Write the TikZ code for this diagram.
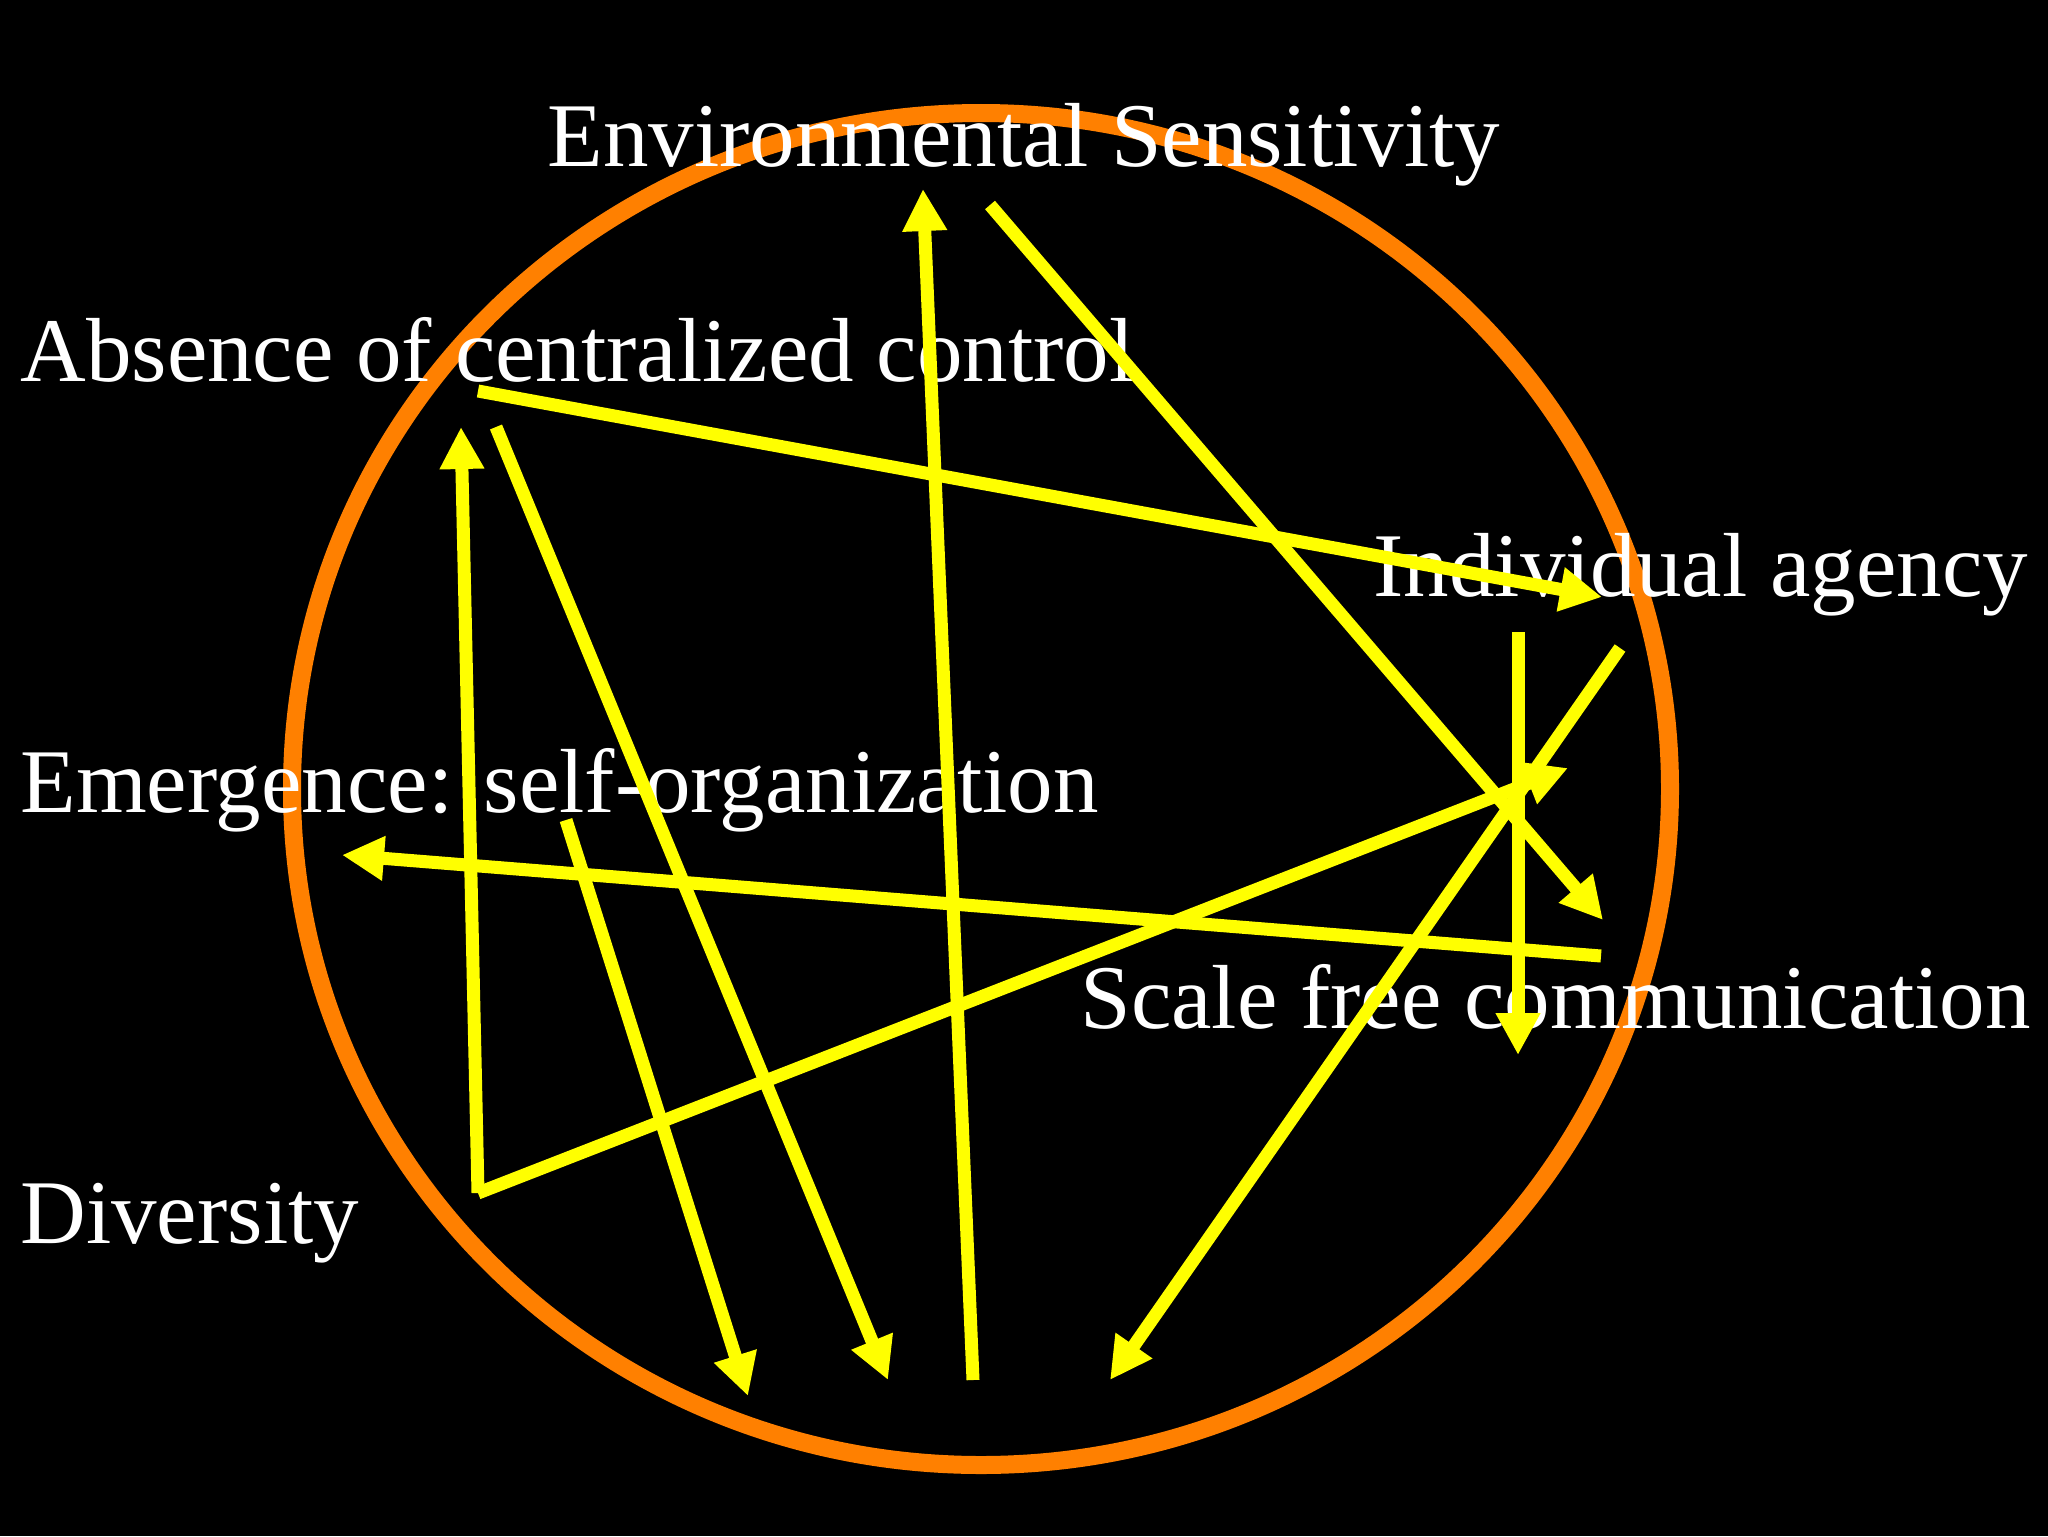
\documentclass[tikz,border=0pt]{standalone}
\usepackage{fontspec}
\setmainfont{Liberation Serif}
\usetikzlibrary{arrows.meta}

\definecolor{ringorange}{RGB}{255,128,0}
\definecolor{linkyellow}{RGB}{255,255,0}
\tikzset{
  link/.style={draw=linkyellow, line width=6.5pt, -{Triangle[length=21pt,width=21pt]}},
  label/.style={text=white, anchor=base west, inner sep=0pt, font=\fontsize{45.5}{54}\selectfont}
}

\begin{document}
\begin{tikzpicture}[x=0.5pt,y=0.5pt,yscale=-1,xscale=1]
%background, sets the picture to 2048 x 1536
\path[fill=black, use as bounding box] (0,0) rectangle (2048,1536);

%Ellipse [ring]
\draw[draw=ringorange, line width=9pt] (981,789) ellipse [x radius=689, y radius=676];

% Text Node
\node[label] (env) at (547,166) {Environmental Sensitivity};
% Text Node
\node[label] (abs) at (20,381) {Absence of centralized control};
% Text Node
\node[label] (ind) at (1373,596) {Individual agency};
% Text Node
\node[label] (emg) at (20,812) {Emergence: self-organization};
% Text Node
\node[label] (sfc) at (1080,1028) {Scale free communication};
% Text Node
\node[label] (div) at (20,1243) {Diversity};

%end points of the arrows
\coordinate (absA) at (478,391);
\coordinate (indA) at (1602,597);
\coordinate (envA) at (990,205);
\coordinate (sfcA) at (1603,920);
\coordinate (indB) at (1518,632);
\coordinate (sfcB) at (1518,1055);
\coordinate (indC) at (1620,648);
\coordinate (botD) at (1110,1380);
\coordinate (emgA) at (566,820);
\coordinate (botA) at (748,1396);
\coordinate (absB) at (496,427);
\coordinate (botB) at (888,1380);
\coordinate (botC) at (973,1380);
\coordinate (envB) at (923,189);
\coordinate (sfcC) at (1601,956);
\coordinate (emgB) at (342,855);
\coordinate (divA) at (478,1193);
\coordinate (absC) at (461,427);
\coordinate (midA) at (1568,768);

%Straight Lines
\draw[link] (absA) -- (indA);
\draw[link] (envA) -- (sfcA);
\draw[link] (indB) -- (sfcB);
\draw[link] (indC) -- (botD);
\draw[link] (emgA) -- (botA);
\draw[link] (absB) -- (botB);
\draw[link] (botC) -- (envB);
\draw[link] (sfcC) -- (emgB);
\draw[link] (divA) -- (absC);
\draw[link] (divA) -- (midA);

\end{tikzpicture}
\end{document}
